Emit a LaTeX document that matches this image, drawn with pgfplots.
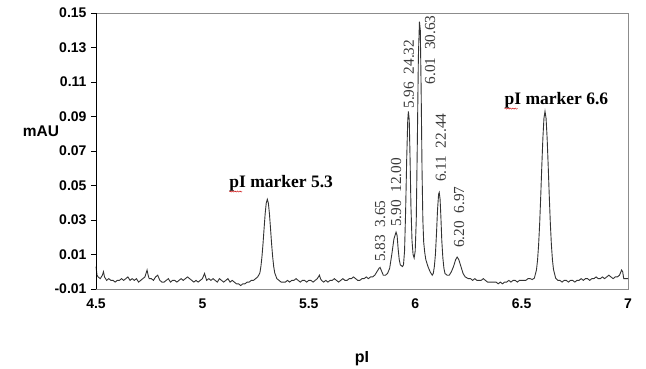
\documentclass[border=0pt]{standalone}
\usepackage{fontspec}
\setmainfont{Liberation Serif}
\newfontfamily\arialfont{Liberation Sans}
\usepackage{pgfplots}
\pgfplotsset{compat=1.18}
\usetikzlibrary{decorations.pathmorphing}
\definecolor{trace}{HTML}{333333}
\definecolor{frame}{HTML}{8C8C8C}
\definecolor{lbl}{HTML}{3A3A3A}
\begin{document}
\begin{tikzpicture}
\path[use as bounding box] (0,0) rectangle (646pt,368pt);
\begin{axis}[
  at={(96pt,79pt)}, anchor=south west,
  scale only axis, width=532pt, height=276pt,
  xmin=4.5, xmax=7, ymin=-0.01, ymax=0.15,
  xtick={4.5,5,5.5,6,6.5,7},
  xticklabels={4.5,5,5.5,6,6.5,7},
  ytick={-0.01,0.01,0.03,0.05,0.07,0.09,0.11,0.13,0.15},
  yticklabels={-0.01,0.01,0.03,0.05,0.07,0.09,0.11,0.13,0.15},
  axis line style={frame, line width=0.9pt},
  tick align=outside, major tick length=5pt,
  ytick pos=left, xtick pos=bottom,
  ytick style={black, line width=0.8pt},
  xtick style={draw=none},
  yticklabel style={xshift=-1pt},
  xticklabel style={yshift=-1pt},
  tick label style={font=\arialfont\bfseries\fontsize{14}{15}\selectfont},
  clip=false,
]
\addplot[trace, line width=0.9pt] coordinates {
(4.500,0.003) (4.505,-0.002) (4.510,-0.003) (4.520,-0.004) (4.530,-0.002) (4.535,0.000)
(4.540,-0.003) (4.550,-0.005) (4.560,-0.004) (4.570,-0.005) (4.580,-0.005) (4.590,-0.006)
(4.600,-0.005) (4.610,-0.005) (4.620,-0.004) (4.630,-0.005) (4.640,-0.004) (4.650,-0.003)
(4.660,-0.005) (4.670,-0.004) (4.680,-0.005) (4.690,-0.004) (4.700,-0.006) (4.710,-0.005)
(4.720,-0.004) (4.730,-0.003) (4.740,0.001) (4.745,-0.002) (4.750,-0.004) (4.760,-0.004)
(4.770,-0.005) (4.780,-0.003) (4.790,-0.002) (4.800,-0.005) (4.810,-0.006) (4.820,-0.006)
(4.830,-0.005) (4.840,-0.004) (4.850,-0.006) (4.860,-0.005) (4.870,-0.005) (4.880,-0.006)
(4.890,-0.005) (4.900,-0.004) (4.910,-0.005) (4.920,-0.004) (4.930,-0.003) (4.940,-0.004)
(4.950,-0.005) (4.960,-0.006) (4.970,-0.005) (4.980,-0.006) (4.990,-0.005) (5.000,-0.004)
(5.010,-0.001) (5.015,-0.003) (5.020,-0.005) (5.030,-0.004) (5.040,-0.005) (5.050,-0.004)
(5.060,-0.005) (5.070,-0.006) (5.080,-0.004) (5.090,-0.005) (5.100,-0.006) (5.110,-0.005)
(5.120,-0.004) (5.130,-0.006) (5.140,-0.005) (5.150,-0.006) (5.160,-0.007) (5.170,-0.007)
(5.180,-0.008) (5.190,-0.007) (5.200,-0.007) (5.210,-0.006) (5.220,-0.006) (5.230,-0.005)
(5.240,-0.005) (5.250,-0.004) (5.260,-0.003) (5.270,-0.0007) (5.275,0.0031) (5.280,0.0089)
(5.285,0.0165) (5.290,0.0253) (5.295,0.0337) (5.300,0.0398) (5.305,0.042) (5.310,0.0398)
(5.315,0.0337) (5.320,0.0253) (5.325,0.0165) (5.330,0.0089) (5.335,0.0031) (5.340,-0.0007)
(5.350,-0.004) (5.360,-0.005) (5.370,-0.006) (5.380,-0.006) (5.390,-0.006) (5.400,-0.005)
(5.410,-0.006) (5.420,-0.005) (5.430,-0.005) (5.440,-0.004) (5.450,-0.005) (5.460,-0.006)
(5.470,-0.005) (5.480,-0.005) (5.490,-0.006) (5.500,-0.005) (5.510,-0.005) (5.520,-0.006)
(5.530,-0.005) (5.540,-0.004) (5.550,-0.002) (5.555,-0.004) (5.560,-0.005) (5.570,-0.006)
(5.580,-0.005) (5.590,-0.006) (5.600,-0.005) (5.610,-0.005) (5.620,-0.004) (5.630,-0.005)
(5.640,-0.006) (5.650,-0.005) (5.660,-0.004) (5.670,-0.005) (5.680,-0.005) (5.690,-0.004)
(5.700,-0.004) (5.710,-0.003) (5.720,-0.004) (5.730,-0.005) (5.740,-0.005) (5.750,-0.004)
(5.760,-0.004) (5.770,-0.003) (5.780,-0.004) (5.790,-0.003) (5.800,-0.003) (5.810,-0.002)
(5.820,0.000) (5.830,0.002) (5.835,0.0025) (5.840,0.001) (5.850,-0.002) (5.860,-0.002)
(5.870,-0.001) (5.880,0.002) (5.890,0.010) (5.900,0.019) (5.910,0.023) (5.915,0.021)
(5.920,0.013) (5.925,0.007) (5.930,0.004) (5.940,0.003) (5.945,0.004) (5.950,0.012)
(5.955,0.035) (5.960,0.065) (5.965,0.088) (5.968,0.093) (5.972,0.088) (5.976,0.065)
(5.980,0.038) (5.985,0.018) (5.990,0.010) (5.995,0.008) (6.000,0.012) (6.005,0.030)
(6.010,0.075) (6.015,0.125) (6.020,0.145) (6.024,0.140) (6.028,0.105) (6.032,0.060)
(6.036,0.030) (6.040,0.017) (6.045,0.011) (6.050,0.007) (6.060,0.003) (6.070,0.000)
(6.080,-0.002) (6.085,-0.001) (6.090,0.003) (6.095,0.010) (6.100,0.022) (6.105,0.036)
(6.110,0.045) (6.113,0.046) (6.117,0.042) (6.121,0.031) (6.125,0.018) (6.130,0.008)
(6.135,0.002) (6.140,-0.001) (6.150,-0.002) (6.160,-0.002) (6.170,0.000) (6.180,0.003)
(6.190,0.007) (6.197,0.0085) (6.205,0.007) (6.215,0.003) (6.225,-0.001) (6.235,-0.003)
(6.250,-0.004) (6.260,-0.004) (6.270,-0.005) (6.280,-0.004) (6.290,-0.005) (6.300,-0.005)
(6.310,-0.005) (6.320,-0.004) (6.330,-0.005) (6.340,-0.006) (6.350,-0.006) (6.360,-0.006)
(6.370,-0.006) (6.380,-0.006) (6.390,-0.007) (6.400,-0.006) (6.410,-0.007) (6.420,-0.006)
(6.430,-0.006) (6.440,-0.005) (6.450,-0.006) (6.460,-0.005) (6.470,-0.005) (6.480,-0.006)
(6.490,-0.005) (6.500,-0.005) (6.510,-0.005) (6.520,-0.005) (6.530,-0.004) (6.540,-0.004)
(6.550,-0.0045) (6.560,-0.0037) (6.570,0.0012) (6.575,0.0068) (6.580,0.0157) (6.585,0.0282)
(6.590,0.044) (6.595,0.0614) (6.600,0.0774) (6.605,0.0889) (6.610,0.093) (6.615,0.0889)
(6.620,0.0774) (6.625,0.0614) (6.630,0.044) (6.635,0.0282) (6.640,0.0157) (6.645,0.0068)
(6.650,0.0012) (6.660,-0.0037) (6.670,-0.005) (6.680,-0.005) (6.690,-0.006) (6.700,-0.005)
(6.710,-0.005) (6.720,-0.006) (6.730,-0.005) (6.740,-0.005) (6.750,-0.006) (6.760,-0.005)
(6.770,-0.005) (6.780,-0.004) (6.790,-0.005) (6.800,-0.004) (6.810,-0.004) (6.820,-0.005)
(6.830,-0.004) (6.840,-0.004) (6.850,-0.003) (6.860,-0.004) (6.870,-0.004) (6.880,-0.003)
(6.890,-0.004) (6.900,-0.003) (6.910,-0.002) (6.920,-0.003) (6.930,-0.004) (6.940,-0.003)
(6.950,-0.003) (6.960,-0.002) (6.970,0.001) (6.975,0.000) (6.980,-0.004) (6.990,-0.004)
(7.000,-0.004)
};
\draw[black, line width=0.9pt] (rel axis cs:0,0) -- (rel axis cs:0,1);
\node[anchor=base, font=\bfseries\fontsize{17.5}{18}\selectfont, inner sep=0pt] (m1) at (axis cs:5.37,0.0491) {pI marker 5.3};
\node[anchor=base, font=\bfseries\fontsize{17.5}{18}\selectfont, inner sep=0pt] (m2) at (axis cs:6.664,0.0972) {pI marker 6.6};
\begin{scope}[every node/.style={rotate=90, anchor=west, inner sep=0pt, text=lbl, font=\fontsize{15.3}{16}\selectfont}]
\node at (axis cs:5.835,0.0057) {5.83\ \ 3.65};
\node at (axis cs:5.910,0.0259) {5.90\ \ 12.00};
\node at (axis cs:5.971,0.0945) {5.96\ \ 24.32};
\node at (axis cs:6.070,0.1085) {6.01\ \ 30.63};
\node at (axis cs:6.121,0.0520) {6.11\ \ 22.44};
\node at (axis cs:6.206,0.0138) {6.20\ \ 6.97};
\end{scope}
\end{axis}
\draw[red!80!black, line width=0.4pt, decorate, decoration={snake, amplitude=0.6pt, segment length=2.5pt}] ([yshift=-4.5pt]m1.base west) -- ([yshift=-4.5pt,xshift=13pt]m1.base west);
\draw[red!80!black, line width=0.4pt, decorate, decoration={snake, amplitude=0.6pt, segment length=2.5pt}] ([yshift=-4.5pt]m2.base west) -- ([yshift=-4.5pt,xshift=13pt]m2.base west);
\node[font=\arialfont\bfseries\fontsize{15.5}{16}\selectfont, inner sep=0pt] at (41pt,237pt) {mAU};
\node[font=\arialfont\bfseries\fontsize{16}{17}\selectfont, inner sep=0pt, anchor=base] at (362pt,6pt) {pI};
\end{tikzpicture}
\end{document}
